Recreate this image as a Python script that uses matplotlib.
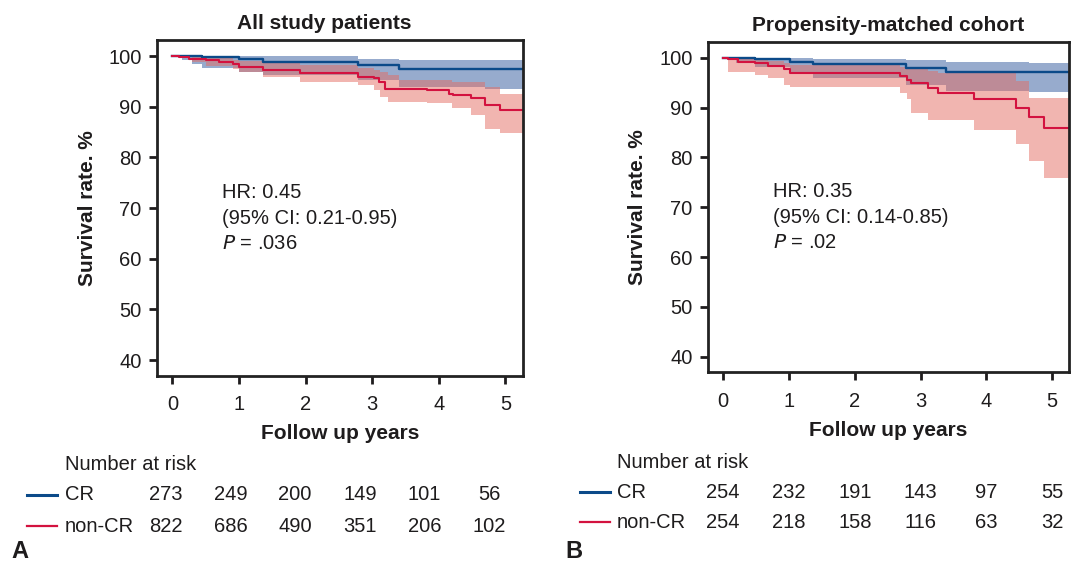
import numpy as np
import matplotlib
matplotlib.use("Agg")
import matplotlib.pyplot as plt
from matplotlib.transforms import blended_transform_factory

plt.rcParams['font.family'] = ['Liberation Sans', 'DejaVu Sans']
TXT = '#1e1c1d'

# ---- Panel A: all study patients ----
a_cr_t = [0, 0.45, 1.0, 1.36, 2.78, 3.40, 5.4]
a_cr_s = [100, 99.8, 99.5, 98.9, 98.2, 97.4, 97.4]
a_cr_band_t = [0, 0.15, 0.3, 0.45, 1.0, 1.36, 2.78, 3.40, 4.69, 5.4]
a_cr_lo = [100, 99.3, 98.5, 97.6, 96.9, 96.2, 95.3, 93.9, 93.6, 93.6]
a_cr_hi = [100, 100, 100, 100, 100, 100, 99.5, 99.2, 99.2, 99.2]

a_ncr_t = [0, 0.1, 0.25, 0.5, 0.7, 0.91, 1.0, 1.36, 1.92, 2.78, 3.03, 3.1, 3.2,
           3.82, 4.15, 4.22, 4.48, 4.69, 4.92, 5.4]
a_ncr_s = [100, 99.8, 99.5, 99.2, 98.8, 98.4, 97.9, 97.2, 96.6, 95.9, 95.6, 94.9,
           93.6, 93.3, 92.6, 92.3, 91.7, 90.3, 89.3, 89.3]
a_ncr_band_t = [0, 0.3, 0.5, 0.91, 1.0, 1.36, 1.92, 2.78, 3.03, 3.12, 3.24, 3.40,
                3.82, 4.2, 4.48, 4.69, 4.92, 5.4]
a_ncr_lo = [100, 98.8, 98.0, 97.5, 96.9, 95.9, 94.9, 94.3, 93.3, 92.0, 91.0, 91.0,
            90.7, 89.7, 88.4, 85.7, 84.8, 84.8]
a_ncr_hi = [100, 99.9, 99.7, 99.3, 99.0, 98.6, 98.3, 97.6, 97.2, 96.8, 96.3, 95.3,
            95.3, 94.9, 94.9, 93.9, 92.6, 92.6]

a_risk_cr = [273, 249, 200, 149, 101, 56]
a_risk_ncr = [822, 686, 490, 351, 206, 102]

# ---- Panel B: propensity-matched cohort ----
b_cr_t = [0, 0.48, 1.01, 1.36, 2.78, 3.38, 5.4]
b_cr_s = [100, 99.7, 99.1, 98.7, 98.0, 97.2, 97.2]
b_cr_band_t = [0, 0.2, 0.48, 1.01, 1.36, 2.78, 3.38, 4.65, 5.4]
b_cr_lo = [100, 99.0, 98.2, 96.9, 95.9, 94.6, 93.3, 93.2, 93.2]
b_cr_hi = [100, 100, 100, 99.9, 99.8, 99.6, 99.2, 98.9, 98.9]

b_ncr_t = [0, 0.08, 0.23, 0.48, 0.68, 0.93, 1.01, 2.68, 2.80, 2.85, 3.11, 3.26,
           3.81, 4.45, 4.65, 4.87, 5.4]
b_ncr_s = [100, 99.7, 99.2, 98.9, 98.4, 97.8, 97.0, 96.4, 95.6, 94.9, 93.9, 93.0,
           91.7, 90.0, 88.0, 85.9, 85.9]
b_ncr_band_t = [0, 0.08, 0.23, 0.48, 0.68, 0.93, 1.01, 2.68, 2.80, 2.85, 3.11, 3.26,
                3.81, 4.45, 4.65, 4.87, 5.4]
b_ncr_lo = [100, 97.2, 97.2, 96.6, 95.9, 94.6, 94.1, 93.0, 91.7, 89.0, 87.5, 87.5,
            85.5, 82.6, 79.2, 75.9, 75.9]
b_ncr_hi = [100, 100, 99.9, 99.6, 99.3, 99.0, 98.6, 98.2, 97.8, 97.8, 97.4, 96.9,
            96.9, 95.3, 92.0, 92.0, 92.0]

b_risk_cr = [254, 232, 191, 143, 97, 55]
b_risk_ncr = [254, 218, 158, 116, 63, 32]

risk_years = np.arange(6)
yticks = [40, 50, 60, 70, 80, 90, 100]

BLUE = '#0b4a89'
RED = '#d3123f'
BLUE_FILL = '#30599d'
RED_FILL = '#e46c62'
FS = 14.5

fig = plt.figure(figsize=(10.72, 5.69), dpi=100)
W, H = 1072, 569


def fx(px):
    return px / W


def fy(py):
    return 1 - py / H


def km_panel(rect, title, title_x, cr, ncr, stats, risk_cr, risk_ncr, risk_scale,
             risk_off, table_px, letter, ylab_x, xlab_y):
    ax = fig.add_axes(rect)
    (ct, cs, cbt, clo, chi) = cr
    (nt, ns, nbt, nlo, nhi) = ncr
    ax.fill_between(cbt, clo, chi, step='post', color=BLUE_FILL, alpha=0.5, lw=0)
    ax.fill_between(nbt, nlo, nhi, step='post', color=RED_FILL, alpha=0.5, lw=0)
    ax.step(ct, cs, where='post', color=BLUE, lw=1.7)
    ax.step(nt, ns, where='post', color=RED, lw=1.5)

    ax.set_xlim(-0.235, 5.26)
    ax.set_ylim(36.9, 103.2)
    ax.set_xticks(range(6))
    ax.set_yticks(yticks)
    for s in ax.spines.values():
        s.set_linewidth(2.0)
        s.set_color('#222222')
    ax.tick_params(width=2.0, length=6, labelsize=FS, colors=TXT)
    ax.tick_params(axis='y', pad=5)
    ax.tick_params(axis='x', pad=8)
    ax.set_title(title, x=title_x, fontsize=15, fontweight='bold', color=TXT, pad=8)
    ax.set_xlabel('Follow up years', fontsize=15, fontweight='bold', color=TXT)
    ax.set_ylabel('Survival rate. %', fontsize=15, fontweight='bold', color=TXT)
    ax.yaxis.set_label_coords(ylab_x, 0.5)
    ax.yaxis.label.set_va('center')
    ax.xaxis.set_label_coords(0.5, xlab_y)
    ax.xaxis.label.set_va('center')

    hr, ci, p = stats
    ax.text(0.75, 73.1, f'HR: {hr}', fontsize=FS, color=TXT, va='center')
    ax.text(0.75, 68.0, f'(95% CI: {ci})', fontsize=FS, color=TXT, va='center')
    ax.text(0.75, 63.0, f'$P$ = {p}', fontsize=FS, color=TXT, va='center')

    # number-at-risk table
    lx0, lx1, tx, y0, y1, y2 = table_px
    fig.text(fx(tx), fy(y0), 'Number at risk', fontsize=FS, color=TXT, va='center')
    fig.text(fx(tx), fy(y1), 'CR', fontsize=FS, color=TXT, va='center')
    fig.text(fx(tx), fy(y2), 'non-CR', fontsize=FS, color=TXT, va='center')
    fig.add_artist(plt.Line2D([fx(lx0), fx(lx1)], [fy(y1), fy(y1)], color=BLUE, lw=2.2))
    fig.add_artist(plt.Line2D([fx(lx0), fx(lx1)], [fy(y2), fy(y2)], color=RED, lw=1.6))
    tr = blended_transform_factory(ax.transData, fig.transFigure)
    for yr, c, n in zip(risk_years, risk_cr, risk_ncr):
        xpos = yr * risk_scale + risk_off
        fig.text(xpos, fy(y1), str(c), transform=tr, fontsize=FS, color=TXT,
                 ha='center', va='center')
        fig.text(xpos, fy(y2), str(n), transform=tr, fontsize=FS, color=TXT,
                 ha='center', va='center')
    fig.text(fx(letter[0]), fy(letter[1]), letter[2], fontsize=17, fontweight='bold',
             color=TXT, va='center')
    return ax


km_panel([fx(156.7), fy(375.7), fx(522.7 - 156.7), (375.7 - 40) / H],
         'All study patients', 0.458,
         (a_cr_t, a_cr_s, a_cr_band_t, a_cr_lo, a_cr_hi),
         (a_ncr_t, a_ncr_s, a_ncr_band_t, a_ncr_lo, a_ncr_hi),
         ('0.45', '0.21-0.95', '.036'),
         a_risk_cr, a_risk_ncr, 0.972, -0.1,
         (27, 57, 65, 465, 495, 526), (11, 551, 'A'), -0.19, -0.171)

km_panel([fx(707.7), fy(372.3), fx(1069.3 - 707.7), (372.3 - 41.7) / H],
         'Propensity-matched cohort', 0.5,
         (b_cr_t, b_cr_s, b_cr_band_t, b_cr_lo, b_cr_hi),
         (b_ncr_t, b_ncr_s, b_ncr_band_t, b_ncr_lo, b_ncr_hi),
         ('0.35', '0.14-0.85', '.02'),
         b_risk_cr, b_risk_ncr, 1.0, 0.0,
         (580, 610, 617, 462, 492, 522), (565, 551, 'B'), -0.193, -0.175)

fig.savefig('out.png', dpi=100)
